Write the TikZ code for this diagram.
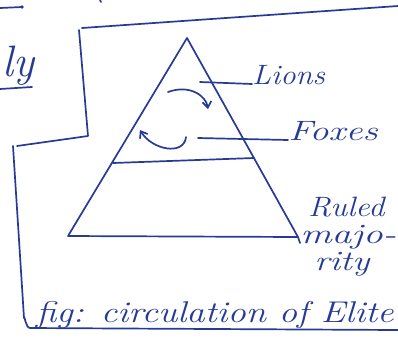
\documentclass[tikz,border=0pt]{standalone}
\usetikzlibrary{arrows.meta}
\definecolor{ink}{RGB}{38,58,150}
\begin{document}
\begin{tikzpicture}[x=1pt,y=-1pt,
  pen/.style={draw=ink,line width=1.7pt,line cap=round,line join=round},
  hand/.style={text=ink,font=\itshape\fontsize{28}{30}\selectfont,inner sep=0pt,anchor=base west},
  curl/.style={pen,-{Straight Barb[length=6pt,width=9pt]}}]
\useasboundingbox (0,0) rectangle (398,338);
% frames
\coordinate (tl) at (82,28);
\coordinate (tr) at (398,6);
\coordinate (bxb) at (88,136);
\coordinate (bxl) at (17,146);
\draw[pen] (tl) -- (tr);
\draw[pen] (79,30) -- (bxb) -- (bxl);
\draw[pen] (0,8) -- (22,7);
\fill[ink] (22,7) circle (1.8pt);
\draw[pen] (100,0) -- (101,2);
\coordinate (fl) at (13,146);
\coordinate (fb) at (30,328);
\coordinate (fr) at (398,330);
\draw[pen] (fl) -- (24,318) to[out=85,in=180] (fb) -- (fr);
% left partial text
\node[hand,font=\itshape\fontsize{44}{46}\selectfont] (ly) at (2,76) {ly};
\draw[pen] (0,89) -- (32,87);
% triangle
\coordinate (apex) at (187,38);
\coordinate (bl) at (68,236);
\coordinate (br) at (298,237);
\draw[pen] (apex) -- (bl) -- (br) -- cycle;
\coordinate (m1) at (113,163);
\coordinate (m2) at (254,158);
\draw[pen] (m1) -- (m2);
% labels
\node[hand,xscale=1.1] (lions) at (252,84) {Lions};
\node[hand,xscale=1.35] (foxes) at (288,140) {Foxes};
\coordinate (l1) at (200,82);
\coordinate (f1) at (198,138);
\draw[pen] (l1) -- (lions.base west);
\draw[pen] (f1) -- (foxes.base west);
% circulation arrows
\coordinate (a1) at (168,92);
\coordinate (a2) at (208,109);
\draw[curl] (a1) .. controls (190,84) and (206,96) .. (a2);
\coordinate (b1) at (186,137);
\coordinate (b2) at (140,130);
\draw[curl] (b1) .. controls (184,156) and (152,150) .. (b2);
% ruled majority
\node[hand,xscale=1.15] (ruled) at (308,216) {Ruled};
\node[hand,xscale=1.4] (majo) at (300,243) {majo-};
\node[hand,xscale=1.3] (rity) at (314,270) {rity};
\draw[pen] (br) -- (majo.base west);
% caption
\node[hand,font=\itshape\fontsize{30}{32}\selectfont,xscale=1.22] (cap) at (36,322) {fig: circulation of Elite};
\end{tikzpicture}
\end{document}
